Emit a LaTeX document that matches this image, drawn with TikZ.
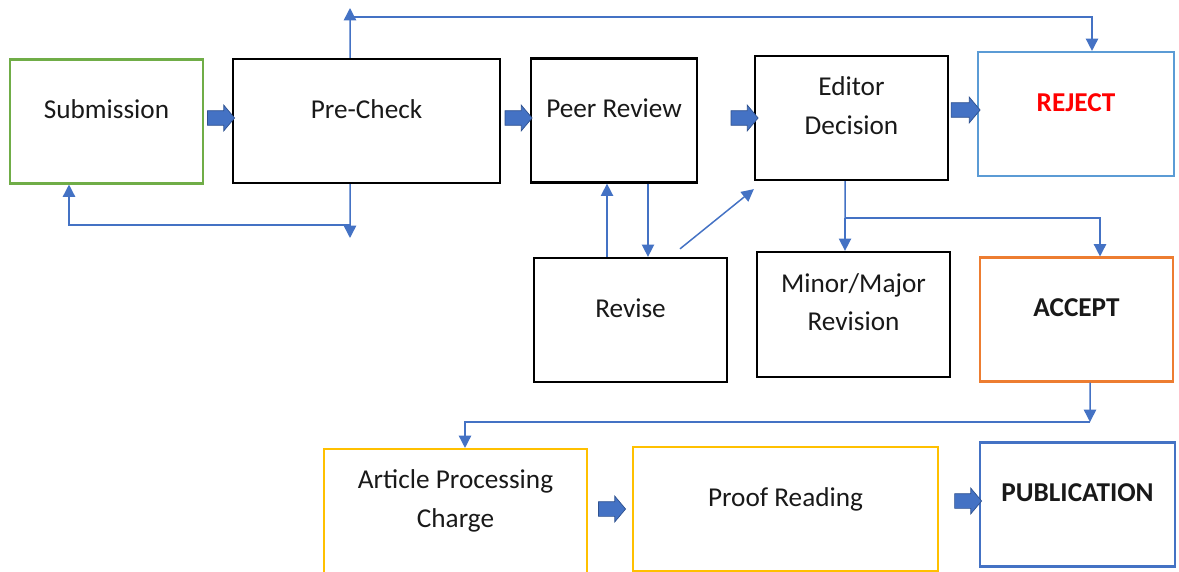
\documentclass[tikz,border=0pt]{standalone}
\usepackage{fontspec}
\setmainfont{Carlito}
\usepackage{xcolor}
\usepackage{tikz}
\usetikzlibrary{arrows.meta,shapes.arrows}

\definecolor{linkblue}{HTML}{4472C4}
\definecolor{linkdark}{HTML}{2F528F}
\definecolor{subgreen}{HTML}{70AD47}
\definecolor{rejblue}{HTML}{5B9BD5}
\definecolor{accorange}{HTML}{ED7D31}
\definecolor{pubgold}{HTML}{FFC000}

\newcommand{\boxtext}[1]{\raisebox{2.5pt}[0pt][0pt]{\begin{tabular}{@{}c@{}}#1\end{tabular}}}

\begin{document}
\begin{tikzpicture}[x=0.02cm,y=-0.02cm,
    box/.style={draw=black,rectangle,line width=1.3pt,inner sep=0pt,
                minimum width=3.86cm,minimum height=2.48cm,
                text=black!90,font=\fontsize{15.5}{22}\selectfont},
    cbox/.style={box,line width=1.2pt},
    blockarrow/.style={single arrow,draw=linkdark,fill=linkblue,line width=0.4pt,
                inner sep=0pt,text width=0pt,text height=0.14cm,text depth=0.14cm,
                minimum height=0.54cm,single arrow head extend=0.11cm,
                single arrow tip angle=100},
    link/.style={draw=linkblue,line width=0.85pt},
    >={Triangle[length=7pt,width=7pt,linkblue]}]
\clip (0,0) rectangle (1179,571);

% top row
\node[cbox,draw=subgreen] (sub) at (106.5,121.5) {\boxtext{Submission}};
\node[box,minimum width=5.34cm] (pre) at (366.5,121) {\boxtext{Pre-Check}};
\node[box,minimum width=3.32cm] (peer) at (614,120.5) {\boxtext{Peer Review}};
\node[box] (edit) at (851.5,118) {\boxtext{Editor\\Decision}};
\node[cbox,draw=rejblue,minimum width=3.92cm] (reject) at (1076,114)
    {\boxtext{\textbf{\color{red}REJECT}}};

% middle row
\node[box] (revise) at (630.5,320) {\boxtext{Revise}};
\node[box,minimum height=2.5cm] (minor) at (853.5,314.5) {\boxtext{Minor/Major\\Revision}};
\node[cbox,draw=accorange] (accept) at (1076.5,319.5) {\boxtext{\textbf{ACCEPT}}};

% bottom row
\node[cbox,draw=pubgold,minimum width=5.26cm] (apc) at (455.5,511)
    {\boxtext{Article Processing\\Charge}};
\node[cbox,draw=pubgold,minimum width=6.1cm] (proof) at (785.5,509) {\boxtext{Proof Reading}};
\node[cbox,draw=linkblue,minimum width=3.9cm] (pub) at (1077.5,504.5)
    {\boxtext{\textbf{PUBLICATION}}};

% block arrows
\node[blockarrow] (a1) at (218,118) {};
\node[blockarrow] (a2) at (515.5,118) {};
\node[blockarrow] (a3) at (741.5,118) {};
\node[blockarrow,minimum height=0.58cm] (a4) at (962.5,110) {};
\node[blockarrow] (a5) at (609,509) {};
\node[blockarrow] (a6) at (965,501) {};

% corners of the connectors
\coordinate (tl) at (350,17);
\coordinate (tr) at (1092,17);
\coordinate (bl) at (69,225);
\coordinate (br) at (350,225);
\coordinate (ej) at (845,218);
\coordinate (ea) at (1100,218);
\coordinate (ar) at (1090,422);
\coordinate (al) at (465,422);

\draw[link,->] ([xshift=-.33cm]pre.north) -- ([yshift=.18cm]tl);
\draw[link,->] (tl) -- (tr) -- (reject.north -| tr);
\draw[link,->] ([xshift=-.33cm]pre.south) -- ([yshift=-.26cm]br);
\draw[link,->] (br) -- (bl) -- (bl |- sub.south);
\draw[link,->] ([xshift=-.47cm]revise.north) -- ([xshift=-.47cm]revise.north |- peer.south);
\draw[link,->] ([xshift=.68cm]peer.south) -- ([xshift=.68cm]peer.south |- revise.north);
\draw[link,->] ([xshift=.99cm,yshift=.16cm]revise.north) -- ([yshift=-.16cm]edit.south west);
\draw[link] ([xshift=-.13cm]edit.south) -- (ej);
\draw[link,->] (ej) -- (ej |- minor.north);
\draw[link,->] (ej) -- (ea) -- (ea |- accept.north);
\draw[link,->] ([xshift=.27cm]accept.south) -- (ar);
\draw[link,->] (ar) -- (al) -- (al |- apc.north);
\end{tikzpicture}
\end{document}
